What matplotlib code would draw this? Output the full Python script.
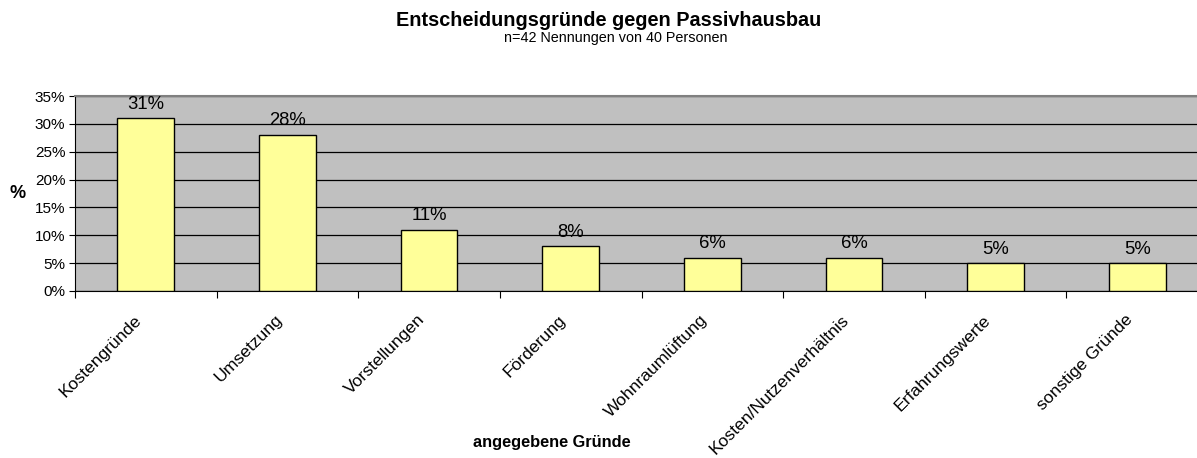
import numpy as np
import matplotlib
matplotlib.use("Agg")
from matplotlib import pyplot as plt
from matplotlib import transforms
from matplotlib.ticker import FuncFormatter, MultipleLocator

# Daten
gruende = ["Kostengründe", "Umsetzung", "Vorstellungen", "Förderung",
           "Wohnraumlüftung", "Kosten/Nutzenverhältnis", "Erfahrungswerte",
           "sonstige Gründe"]
anteile = [31, 28, 11, 8, 6, 6, 5, 5]

plt.rcParams['font.family'] = ['Liberation Sans', 'DejaVu Sans']

fig = plt.figure(figsize=(11.97, 4.58), dpi=100)
# Plotfläche rechts leicht abgeschnitten wie im Original
ax = fig.add_axes([75 / 1197, 1 - 291 / 458, 1133 / 1197, 195 / 458])
ax.set_facecolor("#C0C0C0")

x = np.arange(len(gruende))
ax.bar(x, anteile, width=0.4, color="#FFFF99", edgecolor="black", linewidth=1, zorder=3)

# Werte über den Balken
for xi, v in zip(x, anteile):
    ax.annotate(f"{v}%", (xi, v), xytext=(0, 4), textcoords="offset points",
                ha="center", va="bottom", fontsize=13.3, zorder=4)

ax.set_xlim(-0.5, len(gruende) - 0.5)
ax.set_ylim(0, 35)
ax.yaxis.set_major_locator(MultipleLocator(5))
ax.yaxis.set_major_formatter(FuncFormatter(lambda v, p: f"{int(v)}%"))
ax.grid(axis="y", color="black", linewidth=0.9, zorder=1)
ax.tick_params(axis="y", direction="out", length=4, width=0.8, labelsize=11, pad=3)

# Achsenticks zwischen den Kategorien, Beschriftung mittig
ax.set_xticks(x)
ax.set_xticks(np.arange(-0.5, len(gruende)), minor=True)
ax.tick_params(axis="x", which="major", length=0, pad=19)
ax.tick_params(axis="x", which="minor", length=5, width=0.8, direction="out")
ax.set_xticklabels(gruende, rotation=45, ha="right", va="center",
                   rotation_mode="anchor", fontsize=12.6)
versatz = transforms.ScaledTranslation(-7 / 100, 0, fig.dpi_scale_trans)
for lab in ax.get_xticklabels():
    lab.set_transform(lab.get_transform() + versatz)

ax.spines["left"].set_color("black")
ax.spines["bottom"].set_color("black")
ax.spines["top"].set_color("#808080")
ax.spines["top"].set_linewidth(1.5)
ax.spines["right"].set_visible(False)

# Titel und Achsentitel
fig.text(609 / 1197, 1 - 20 / 458, "Entscheidungsgründe gegen Passivhausbau",
         ha="center", va="center", fontsize=14.3, fontweight="bold")
fig.text(616 / 1197, 1 - 38 / 458, "n=42 Nennungen von 40 Personen",
         ha="center", va="center", fontsize=10.4)
fig.text(18 / 1197, 1 - 193 / 458, "%", ha="center", va="center",
         fontsize=13, fontweight="bold")
fig.text(552 / 1197, 1 - 442 / 458, "angegebene Gründe", ha="center", va="center",
         fontsize=11.8, fontweight="bold")

fig.savefig("out.png", dpi=100)
